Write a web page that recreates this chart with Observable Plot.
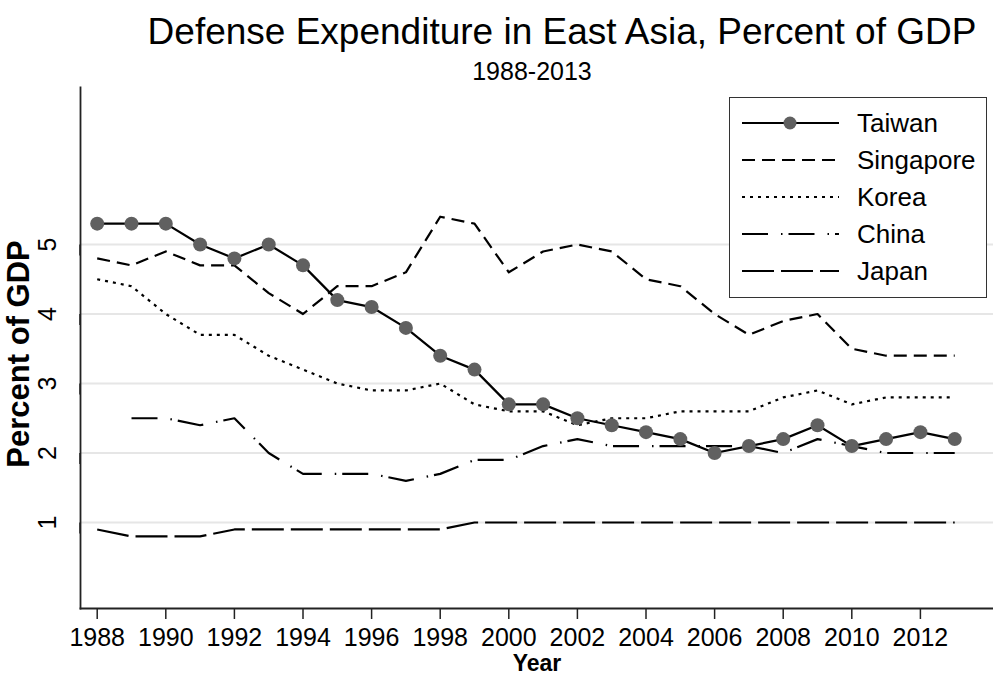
<!DOCTYPE html>
<html>
<head>
<meta charset="utf-8">
<script src="https://cdn.jsdelivr.net/npm/d3@7"></script>
<script src="https://cdn.jsdelivr.net/npm/@observablehq/plot@0.6"></script>
<style>
  html, body { margin: 0; padding: 0; background: #fff; }
  #wrap { position: relative; width: 993px; height: 687px; overflow: hidden; font-family: "Liberation Sans", Arial, Helvetica, sans-serif; color: #000; }
  #title { position: absolute; left: 562px; top: 13px; transform: translateX(-50%); white-space: nowrap; font-size: 37px; line-height: 37px; }
  #subtitle { position: absolute; left: 532px; top: 59px; transform: translateX(-50%); white-space: nowrap; font-size: 25px; line-height: 25px; }
  #chart { position: absolute; left: 0; top: 80px; }
  #legend { position: absolute; left: 729px; top: 97px; width: 256px; height: 199px; border: 1.6px solid #333; background: #fff; }
</style>
</head>
<body>
<div id="wrap">
  <div id="title">Defense Expenditure in East Asia, Percent of GDP</div>
  <div id="subtitle">1988-2013</div>
  <div id="chart"></div>
  <div id="legend"></div>
</div>
<script>
const years = d3.range(1988, 2014);
const taiwan    = [5.3,5.3,5.3,5.0,4.8,5.0,4.7,4.2,4.1,3.8,3.4,3.2,2.7,2.7,2.5,2.4,2.3,2.2,2.0,2.1,2.2,2.4,2.1,2.2,2.3,2.2];
const singapore = [4.8,4.7,4.9,4.7,4.7,4.3,4.0,4.4,4.4,4.6,5.4,5.3,4.6,4.9,5.0,4.9,4.5,4.4,4.0,3.7,3.9,4.0,3.5,3.4,3.4,3.4];
const korea     = [4.5,4.4,4.0,3.7,3.7,3.4,3.2,3.0,2.9,2.9,3.0,2.7,2.6,2.6,2.4,2.5,2.5,2.6,2.6,2.6,2.8,2.9,2.7,2.8,2.8,2.8];
const china     = [null,2.5,2.5,2.4,2.5,2.0,1.7,1.7,1.7,1.6,1.7,1.9,1.9,2.1,2.2,2.1,2.1,2.1,2.1,2.1,2.0,2.2,2.1,2.0,2.0,2.0];
const japan     = [0.9,0.8,0.8,0.8,0.9,0.9,0.9,0.9,0.9,0.9,0.9,1.0,1.0,1.0,1.0,1.0,1.0,1.0,1.0,1.0,1.0,1.0,1.0,1.0,1.0,1.0];
const xTicks = d3.range(1988, 2013, 2);
const yTicks = [1, 2, 3, 4, 5];

const series = [
  {name: "Taiwan",    values: taiwan,    dash: null},
  {name: "Singapore", values: singapore, dash: "13,7"},
  {name: "Korea",     values: korea,     dash: "3,5"},
  {name: "China",     values: china,     dash: "26,13,1.5,6"},
  {name: "Japan",     values: japan,     dash: "32,7"}
];
const toRows = (vals) => years.map((year, i) => ({year, value: vals[i]})).filter(d => d.value != null);

const lineMarks = series.map(s => Plot.line(toRows(s.values), {
  x: "year", y: "value", stroke: "#000", strokeWidth: 2.2,
  strokeDasharray: s.dash || undefined, strokeLinejoin: "round", strokeLinecap: "butt"
}));

const chart = Plot.plot({
  width: 993,
  height: 607,
  marginLeft: 80,
  marginRight: 0,
  marginTop: 7,
  marginBottom: 79,
  style: {fontFamily: '"Liberation Sans", Arial, Helvetica, sans-serif', color: "#000", background: "transparent"},
  x: {domain: [1987.513, 2014.131]},
  y: {domain: [-0.237, 7.259]},
  marks: [
    Plot.gridY(yTicks, {stroke: "#e6e6e6", strokeOpacity: 1, strokeWidth: 2}),
    Plot.frame({anchor: "left", stroke: "#222", strokeWidth: 1.8}),
    Plot.frame({anchor: "bottom", stroke: "#222", strokeWidth: 1.8}),
    ...lineMarks,
    Plot.dot(toRows(taiwan), {x: "year", y: "value", r: 7, fill: "#606060", stroke: "none"}),
    Plot.axisX(xTicks, {tickSize: 11, tickPadding: 9, fontSize: 25, stroke: "#222", strokeWidth: 1.5, tickFormat: d => String(d), label: null}),
    Plot.axisY(yTicks, {tickSize: 11, tickPadding: 22, fontSize: 25, rotate: -90, textAnchor: "middle", stroke: "#222", strokeWidth: 1.5, tickFormat: d => String(d), label: null}),
    Plot.text(["Percent of GDP"], {frameAnchor: "left", rotate: -90, dx: -61, dy: 6, fontSize: 31, fontWeight: "bold", textAnchor: "middle"}),
    Plot.text(["Year"], {frameAnchor: "bottom", dy: 62, fontSize: 23, fontWeight: "bold", textAnchor: "middle"})
  ]
});
document.getElementById("chart").appendChild(chart);

// Legend
const lg = d3.select("#legend").append("svg").attr("width", 256).attr("height", 199)
  .style("font-family", '"Liberation Sans", Arial, Helvetica, sans-serif');
series.forEach((s, i) => {
  const cy = 25 + i * 37;
  lg.append("line").attr("x1", 12).attr("x2", 109).attr("y1", cy).attr("y2", cy)
    .attr("stroke", "#000").attr("stroke-width", 2.2)
    .attr("stroke-dasharray", s.dash || null);
  if (i === 0) lg.append("circle").attr("cx", 60).attr("cy", cy).attr("r", 6.5).attr("fill", "#606060");
  lg.append("text").attr("x", 127).attr("y", cy).attr("dy", "0.35em").attr("font-size", 26).text(s.name);
});
</script>
</body>
</html>
